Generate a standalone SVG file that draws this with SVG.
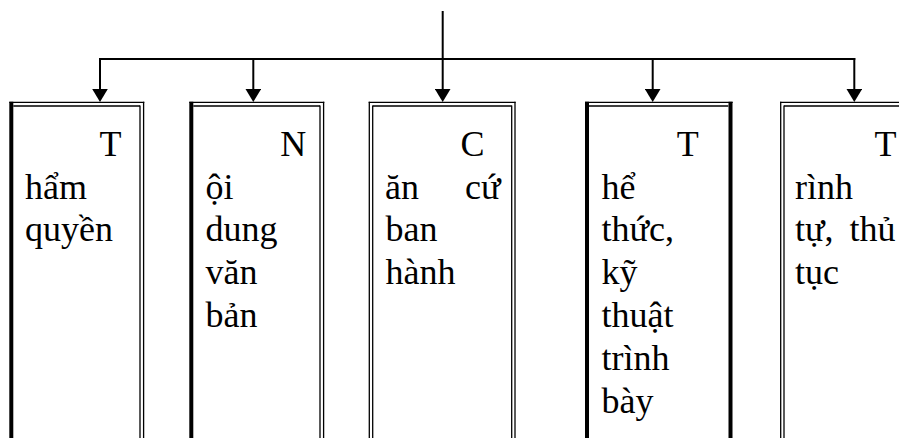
<svg xmlns="http://www.w3.org/2000/svg" width="899" height="438" viewBox="0 0 899 438">
<style>
.bg{fill:#fff}
.thin{stroke:#000;stroke-width:1.3;fill:none}
.thick{stroke:#000;stroke-width:4;fill:none}
.conn{stroke:#000;stroke-width:2;fill:none;stroke-linecap:square}
.t{font-family:"Liberation Serif","Times New Roman",serif;font-size:36px;fill:#000}
</style>
<defs>
<marker id="ah" markerUnits="userSpaceOnUse" viewBox="0 -8 13 16" refX="1" refY="0" markerWidth="13" markerHeight="16" orient="auto">
<path d="M0,-7.8 L13,0 L0,7.8 z" fill="#000"/>
</marker>
</defs>
<rect class="bg" x="0" y="0" width="899" height="438"/>
<g id="connectors">
<line class="conn" x1="442.7" y1="12" x2="442.7" y2="59"/>
<line class="conn" x1="100" y1="59" x2="854.3" y2="59"/>
<path class="conn" d="M100,59 V90" marker-end="url(#ah)"/>
<path class="conn" d="M253.3,59 V90" marker-end="url(#ah)"/>
<path class="conn" d="M442.7,59 V90" marker-end="url(#ah)"/>
<path class="conn" d="M652.7,59 V90" marker-end="url(#ah)"/>
<path class="conn" d="M854.3,59 V90" marker-end="url(#ah)"/>
</g>
<g id="box1">
<line class="thin" x1="9.3" y1="102.3" x2="144.3" y2="102.3"/>
<line class="thin" x1="13.3" y1="106" x2="140" y2="106"/>
<line class="thick" x1="11.3" y1="101.7" x2="11.3" y2="440"/>
<line class="thin" x1="140" y1="105.4" x2="140" y2="440"/>
<line class="thin" x1="143.6" y1="101.7" x2="143.6" y2="440"/>
<text class="t" x="99.5" y="156">T</text>
<text class="t" x="25" y="198.6">hẩm</text>
<text class="t" x="25" y="241.2">quyền</text>
</g>
<g id="box2">
<line class="thin" x1="189.3" y1="102.3" x2="324.3" y2="102.3"/>
<line class="thin" x1="193.3" y1="106" x2="320" y2="106"/>
<line class="thick" x1="191.3" y1="101.7" x2="191.3" y2="440"/>
<line class="thin" x1="320" y1="105.4" x2="320" y2="440"/>
<line class="thin" x1="323.6" y1="101.7" x2="323.6" y2="440"/>
<text class="t" x="280.2" y="156">N</text>
<text class="t" x="205.6" y="198.6">ội</text>
<text class="t" x="205.6" y="241.2">dung</text>
<text class="t" x="205.6" y="284">văn</text>
<text class="t" x="205.6" y="326.6">bản</text>
</g>
<g id="box3">
<line class="thin" x1="368.7" y1="102.3" x2="515.6" y2="102.3"/>
<line class="thin" x1="372.7" y1="106" x2="511.7" y2="106"/>
<line class="thin" x1="369.3" y1="101.7" x2="369.3" y2="440"/>
<line class="thin" x1="372.7" y1="105.4" x2="372.7" y2="440"/>
<line class="thin" x1="511.7" y1="105.4" x2="511.7" y2="440"/>
<line class="thin" x1="515" y1="101.7" x2="515" y2="440"/>
<text class="t" x="460.6" y="156">C</text>
<text class="t" x="385" y="198.6">ăn</text>
<text class="t" x="500.5" y="198.6" text-anchor="end">cứ</text>
<text class="t" x="385.5" y="241.2">ban</text>
<text class="t" x="385.5" y="284">hành</text>
</g>
<g id="box4">
<line class="thin" x1="585" y1="102.3" x2="732.7" y2="102.3"/>
<line class="thin" x1="589" y1="106" x2="728.3" y2="106"/>
<line class="thick" x1="587" y1="101.7" x2="587" y2="440"/>
<line class="thick" x1="730.5" y1="101.7" x2="730.5" y2="440"/>
<text class="t" x="676.8" y="156">T</text>
<text class="t" x="601.5" y="198.6">hể</text>
<text class="t" x="601.5" y="241.2">thức,</text>
<text class="t" x="601.5" y="284.4">kỹ</text>
<text class="t" x="601.5" y="327">thuật</text>
<text class="t" x="601.5" y="370">trình</text>
<text class="t" x="601.5" y="412.7">bày</text>
</g>
<g id="box5">
<line class="thin" x1="780.1" y1="102.3" x2="905" y2="102.3"/>
<line class="thin" x1="784" y1="106" x2="905" y2="106"/>
<line class="thin" x1="780.7" y1="101.7" x2="780.7" y2="440"/>
<line class="thin" x1="784" y1="105.4" x2="784" y2="440"/>
<text class="t" x="874.5" y="156">T</text>
<text class="t" x="795" y="198.6">rình</text>
<text class="t" x="795" y="241.2">tự,</text>
<text class="t" x="895.5" y="241.2" text-anchor="end">thủ</text>
<text class="t" x="795" y="284">tục</text>
</g>
</svg>
